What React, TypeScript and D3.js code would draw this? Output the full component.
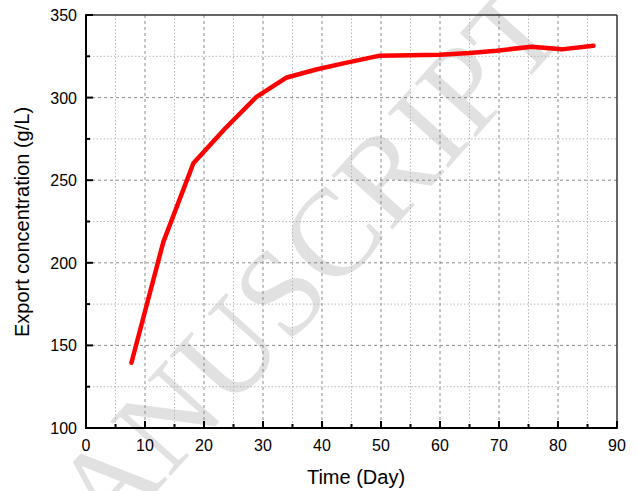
import React from "react";
import * as d3 from "d3";

const days = [7.7, 13.1, 18.2, 23.5, 28.9, 33.9, 39, 44, 49.8, 60, 65, 69.6, 75.5, 80.6, 86];
const concentration = [139.5, 212.5, 260.3, 281, 300.5, 312, 317, 321, 325.4, 326, 327, 328.4, 330.8, 329.2, 331.4];
const xMajorTicks = [0, 10, 20, 30, 40, 50, 60, 70, 80, 90];
const xMinorTicks = [5, 15, 25, 35, 45, 55, 65, 75, 85];
const yMajorTicks = [100, 150, 200, 250, 300, 350];
const yMinorTicks = [125, 175, 225, 275, 325];
const xTitle = "Time (Day)";
const yTitle = "Export concentration (g/L)";
const watermark = "MANUSCRIPT";

const W = 638;
const H = 491;
const L = 86, R = 617, T = 15, B = 428;

export default function App() {
  const x = d3.scaleLinear().domain([0, 90]).range([L, R]);
  const y = d3.scaleLinear().domain([100, 350]).range([B, T]);
  const line = d3
    .line<number>()
    .x((_, i) => x(days[i]))
    .y((d) => y(d));
  const font = "'Liberation Sans', Arial, sans-serif";

  return (
    <svg
      width={W}
      height={H}
      style={{ position: "absolute", left: 0, top: 0, background: "#fff" }}
    >
      <text
        x={0}
        y={0}
        transform="translate(302,330) rotate(-48)"
        textAnchor="middle"
        fontFamily="'Liberation Serif', 'Times New Roman', serif"
        fontSize={124}
        fill="#e1e1e1"
      >
        {watermark}
      </text>
      {/* minor grid */}
      {xMinorTicks.map((t) => (
        <line key={"xm" + t} x1={x(t)} x2={x(t)} y1={T} y2={B} stroke="#b8b8b8" strokeWidth={1} strokeDasharray="1.5,2" />
      ))}
      {yMinorTicks.map((t) => (
        <line key={"ym" + t} x1={L} x2={R} y1={y(t)} y2={y(t)} stroke="#b8b8b8" strokeWidth={1} strokeDasharray="1.5,2" />
      ))}
      {/* major grid */}
      {xMajorTicks.filter((t) => t > 0 && t < 90).map((t) => (
        <line key={"xg" + t} x1={x(t)} x2={x(t)} y1={T} y2={B} stroke="#8a8a8a" strokeWidth={1} strokeDasharray="3,3" />
      ))}
      {yMajorTicks.filter((t) => t > 100 && t < 350).map((t) => (
        <line key={"yg" + t} x1={L} x2={R} y1={y(t)} y2={y(t)} stroke="#8a8a8a" strokeWidth={1} strokeDasharray="3,3" />
      ))}
      {/* frame */}
      <line x1={L} x2={R} y1={T} y2={T} stroke="#333" strokeWidth={1.5} />
      <line x1={R} x2={R} y1={T} y2={B} stroke="#333" strokeWidth={1.5} />
      <line x1={L} x2={L} y1={T - 0.75} y2={B + 1} stroke="#000" strokeWidth={2} />
      <line x1={L - 1} x2={R + 0.75} y1={B} y2={B} stroke="#000" strokeWidth={2} />
      {/* ticks */}
      {xMajorTicks.map((t) => (
        <line key={"xt" + t} x1={x(t)} x2={x(t)} y1={B} y2={B - 7} stroke="#000" strokeWidth={2} />
      ))}
      {xMinorTicks.map((t) => (
        <line key={"xmt" + t} x1={x(t)} x2={x(t)} y1={B} y2={B - 4} stroke="#000" strokeWidth={2} />
      ))}
      {yMajorTicks.map((t) => (
        <line key={"yt" + t} x1={L} x2={L + 7} y1={y(t)} y2={y(t)} stroke="#000" strokeWidth={2} />
      ))}
      {yMinorTicks.map((t) => (
        <line key={"ymt" + t} x1={L} x2={L + 4} y1={y(t)} y2={y(t)} stroke="#000" strokeWidth={2} />
      ))}
      {/* tick labels */}
      {xMajorTicks.map((t) => (
        <text key={"xl" + t} x={x(t)} y={B + 23} textAnchor="middle" fontFamily={font} fontSize={16} fill="#000">
          {t}
        </text>
      ))}
      {yMajorTicks.map((t) => (
        <text key={"yl" + t} x={L - 9} y={y(t) + 6} textAnchor="end" fontFamily={font} fontSize={16} fill="#000">
          {t}
        </text>
      ))}
      {/* titles */}
      <text x={356} y={484} textAnchor="middle" fontFamily={font} fontSize={20} fill="#000">
        {xTitle}
      </text>
      <text
        transform={`translate(29,${222}) rotate(-90)`}
        textAnchor="middle"
        fontFamily={font}
        fontSize={20}
        fill="#000"
      >
        {yTitle}
      </text>
      {/* data line */}
      <path
        d={line(concentration) || ""}
        fill="none"
        stroke="#ff0000"
        strokeWidth={4.5}
        strokeLinejoin="round"
        strokeLinecap="round"
      />
    </svg>
  );
}
